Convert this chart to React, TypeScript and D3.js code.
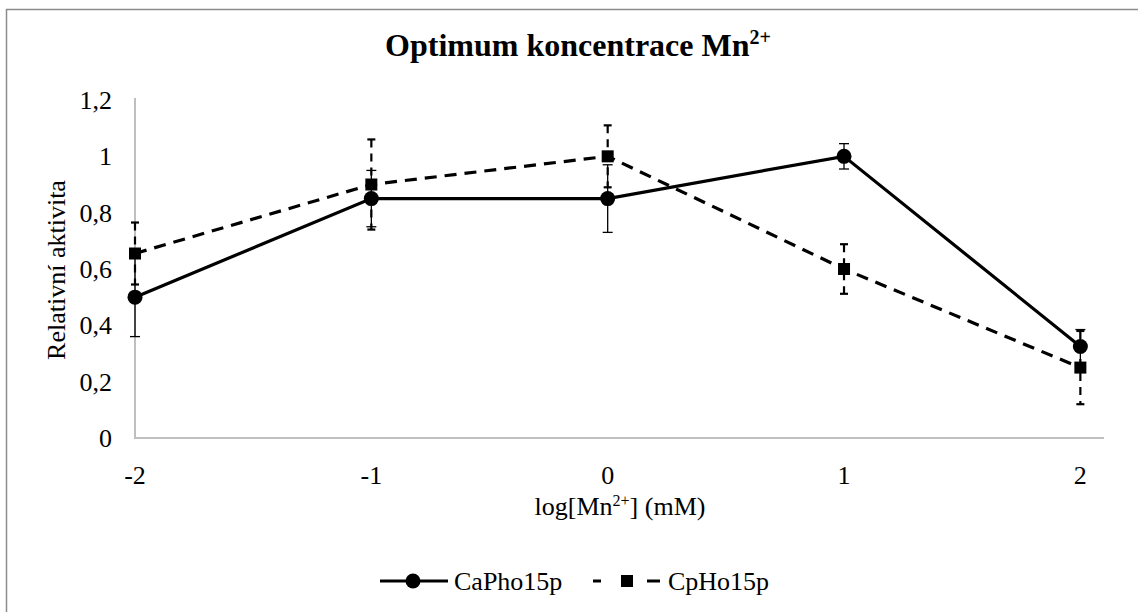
import React from "react";
import * as d3 from "d3";

const xValues = [-2, -1, 0, 1, 2];
const caPho = [0.5, 0.85, 0.85, 1.0, 0.325];
const caPhoErr = [0.14, 0.1, 0.12, 0.045, 0.06];
const cpHo = [0.655, 0.9, 1.0, 0.6, 0.25];
const cpHoErr = [0.11, 0.16, 0.11, 0.088, 0.13];
const yTicks = [0, 0.2, 0.4, 0.6, 0.8, 1, 1.2];
const xTicks = [-2, -1, 0, 1, 2];

const W = 1138;
const H = 612;
const font = "Liberation Serif, Times New Roman, serif";

const x = d3.scaleLinear().domain([-2, 2.1]).range([135, 1104]);
const y = d3.scaleLinear().domain([0, 1.2]).range([438, 100]);

const fmt = (v: number) => String(v).replace(".", ",");

export default function App() {
  const line = d3
    .line<number>()
    .x((_, i) => x(xValues[i]))
    .y((d) => y(d));

  // error bars: solid thin for CaPho15p, dashed for CpHo15p
  const errBars = (vals: number[], errs: number[], dashed: boolean) =>
    vals.map((v, i) => {
      const cx = x(xValues[i]);
      const y1 = y(v + errs[i]);
      const y2 = y(v - errs[i]);
      const cap = dashed ? 4 : 5;
      return (
        <g key={i} stroke="#000" strokeWidth={dashed ? 2.2 : 1.3}>
          <line x1={cx} x2={cx} y1={y1} y2={y2} strokeDasharray={dashed ? "8,6" : undefined} />
          <line x1={cx - cap} x2={cx + cap} y1={y1} y2={y1} />
          <line x1={cx - cap} x2={cx + cap} y1={y2} y2={y2} />
        </g>
      );
    });

  return (
    <svg width={W} height={H} style={{ position: "absolute", left: 0, top: 0, fontFamily: font }}>
      <rect x={0} y={0} width={W} height={H} fill="#fff" />
      <rect x={6.5} y={9.5} width={W + 10} height={H + 10} fill="none" stroke="#8c8c8c" strokeWidth={1.5} />

      <text x={578} y={56} textAnchor="middle" fontSize={32} fontWeight="bold">
        Optimum koncentrace Mn<tspan dy={-12} fontSize={20}>2+</tspan>
      </text>

      {/* axes */}
      <line x1={135} x2={135} y1={y(1.2) - 2} y2={y(0)} stroke="#bfbfbf" strokeWidth={2} />
      <line x1={134} x2={1104} y1={y(0)} y2={y(0)} stroke="#bfbfbf" strokeWidth={2} />

      {yTicks.map((t) => (
        <text key={t} x={112} y={y(t) + 9} textAnchor="end" fontSize={26}>
          {fmt(t)}
        </text>
      ))}
      {xTicks.map((t) => (
        <text key={t} x={x(t)} y={y(0) + 46} textAnchor="middle" fontSize={26}>
          {t}
        </text>
      ))}

      <text transform={`translate(65,270) rotate(-90)`} textAnchor="middle" fontSize={26}>
        Relativní aktivita
      </text>
      <text x={620} y={515} textAnchor="middle" fontSize={26}>
        log[Mn<tspan dy={-9} fontSize={16}>2+</tspan>
        <tspan dy={9}>] (mM)</tspan>
      </text>

      {errBars(caPho, caPhoErr, false)}
      {errBars(cpHo, cpHoErr, true)}

      <path d={line(cpHo) || ""} fill="none" stroke="#000" strokeWidth={3.2} strokeDasharray="12,8" />
      <path d={line(caPho) || ""} fill="none" stroke="#000" strokeWidth={3.2} />

      {cpHo.map((v, i) => (
        <rect key={i} x={x(xValues[i]) - 6} y={y(v) - 6} width={12} height={12} fill="#000" />
      ))}
      {caPho.map((v, i) => (
        <circle key={i} cx={x(xValues[i])} cy={y(v)} r={7.5} fill="#000" />
      ))}

      {/* legend */}
      <line x1={380} x2={448} y1={581} y2={581} stroke="#000" strokeWidth={3.2} />
      <circle cx={413} cy={581} r={7.5} fill="#000" />
      <text x={454} y={590} fontSize={26}>CaPho15p</text>
      <line x1={593} x2={660} y1={581} y2={581} stroke="#000" strokeWidth={3.2} strokeDasharray="8,46,13,100" />
      <rect x={621} y={575} width={12} height={12} fill="#000" />
      <text x={668} y={590} fontSize={26}>CpHo15p</text>
    </svg>
  );
}
